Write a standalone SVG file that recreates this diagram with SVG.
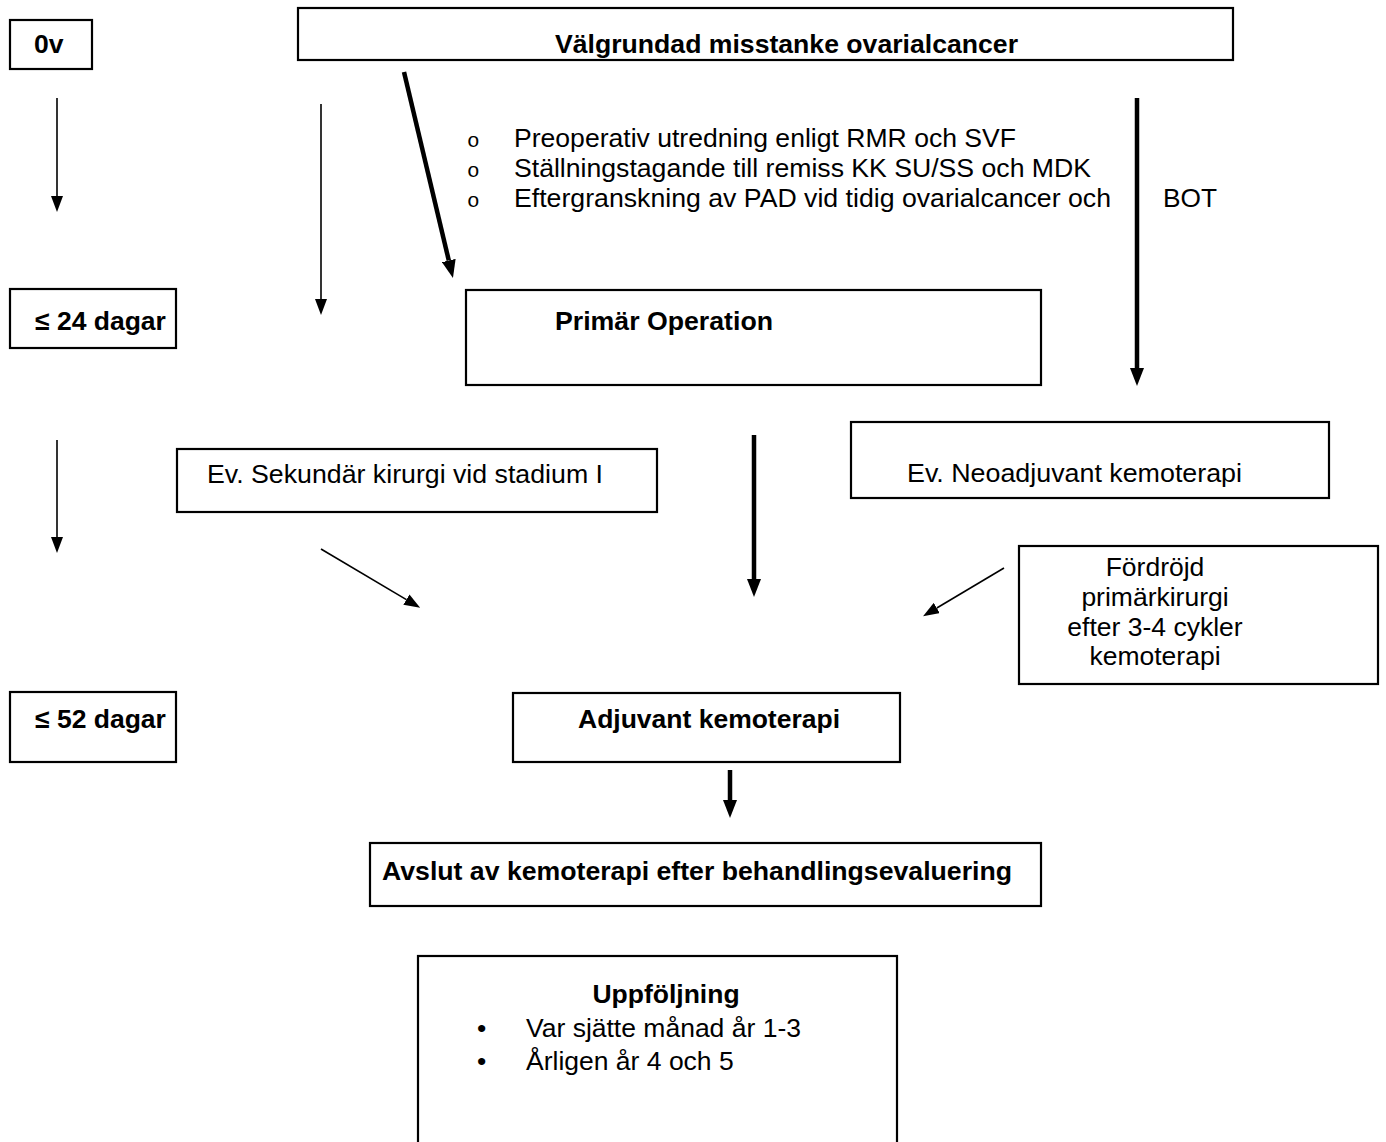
<svg xmlns="http://www.w3.org/2000/svg" width="1386" height="1142" viewBox="0 0 1386 1142">
<style>
.box{fill:#fff;stroke:#000;stroke-width:2.2}
.t{font-family:"Liberation Sans",Arial,sans-serif;font-size:26.5px;fill:#000}
.b{font-weight:bold}
.o{font-family:"Liberation Mono","Courier New",monospace;font-size:21px;fill:#000}
.thin{stroke:#000;stroke-width:1.6;fill:none}
.thick{stroke:#000;stroke-width:4.5;fill:none}
</style>
<defs>
<marker id="ah" markerUnits="userSpaceOnUse" markerWidth="16" markerHeight="12" refX="0" refY="6" orient="auto"><path d="M0,0 L16,6 L0,12 z" fill="#000"/></marker>
<marker id="ahk" markerUnits="userSpaceOnUse" markerWidth="18" markerHeight="14" refX="0" refY="7" orient="auto"><path d="M0,0 L18,7 L0,14 z" fill="#000"/></marker>
</defs>
<rect width="1386" height="1142" fill="#fff"/>
<g id="connectors">
<line class="thin" x1="57" y1="98" x2="57" y2="196" marker-end="url(#ah)"/>
<line class="thin" x1="321" y1="104" x2="321" y2="299" marker-end="url(#ah)"/>
<line class="thick" x1="404" y1="72" x2="448.8" y2="260.5" marker-end="url(#ahk)"/>
<line class="thick" x1="1137" y1="98" x2="1137" y2="368" marker-end="url(#ahk)"/>
<line class="thin" x1="57" y1="440" x2="57" y2="537" marker-end="url(#ah)"/>
<line class="thick" x1="754" y1="435" x2="754" y2="579" marker-end="url(#ahk)"/>
<line class="thin" x1="321" y1="549" x2="406.4" y2="599.6" marker-end="url(#ah)"/>
<line class="thin" x1="1004" y1="568" x2="936.8" y2="608" marker-end="url(#ah)"/>
<line class="thick" x1="730" y1="770" x2="730" y2="800" marker-end="url(#ahk)"/>
</g>
<g id="n-0v"><rect class="box" x="10" y="20" width="82" height="49"/><text class="t b" x="34" y="53">0v</text></g>
<g id="n-top"><rect class="box" x="298" y="8" width="935" height="52"/><text class="t b" x="555" y="53" textLength="463" lengthAdjust="spacingAndGlyphs">Välgrundad misstanke ovarialcancer</text></g>
<g id="n-list">
<text class="o" x="467" y="147">o</text><text class="t" x="514" y="147" textLength="502" lengthAdjust="spacingAndGlyphs">Preoperativ utredning enligt RMR och SVF</text>
<text class="o" x="467" y="177">o</text><text class="t" x="514" y="177" textLength="577" lengthAdjust="spacingAndGlyphs">Ställningstagande till remiss KK SU/SS och MDK</text>
<text class="o" x="467" y="207">o</text><text class="t" x="514" y="207" textLength="597" lengthAdjust="spacingAndGlyphs">Eftergranskning av PAD vid tidig ovarialcancer och</text>
</g>
<g id="n-bot"><text class="t" x="1163" y="207" textLength="54" lengthAdjust="spacingAndGlyphs">BOT</text></g>
<g id="n-24"><rect class="box" x="10" y="289" width="166" height="59"/><text class="t b" x="35" y="330">≤ 24 dagar</text></g>
<g id="n-primar"><rect class="box" x="466" y="290" width="575" height="95"/><text class="t b" x="555" y="330" textLength="218" lengthAdjust="spacingAndGlyphs">Primär Operation</text></g>
<g id="n-sekundar"><rect class="box" x="177" y="449" width="480" height="63"/><text class="t" x="207" y="483" textLength="396" lengthAdjust="spacingAndGlyphs">Ev. Sekundär kirurgi vid stadium I</text></g>
<g id="n-neo"><rect class="box" x="851" y="422" width="478" height="76"/><text class="t" x="907" y="482" textLength="335" lengthAdjust="spacingAndGlyphs">Ev. Neoadjuvant kemoterapi</text></g>
<g id="n-fordrojd"><rect class="box" x="1019" y="546" width="359" height="138"/>
<text class="t" x="1155" y="576" text-anchor="middle">Fördröjd</text>
<text class="t" x="1155" y="606" text-anchor="middle">primärkirurgi</text>
<text class="t" x="1155" y="636" text-anchor="middle">efter 3-4 cykler</text>
<text class="t" x="1155" y="665" text-anchor="middle">kemoterapi</text></g>
<g id="n-52"><rect class="box" x="10" y="692" width="166" height="70"/><text class="t b" x="35" y="728">≤ 52 dagar</text></g>
<g id="n-adjuvant"><rect class="box" x="513" y="693" width="387" height="69"/><text class="t b" x="578" y="728" textLength="262" lengthAdjust="spacingAndGlyphs">Adjuvant kemoterapi</text></g>
<g id="n-avslut"><rect class="box" x="370" y="843" width="671" height="63"/><text class="t b" x="382" y="880" textLength="630" lengthAdjust="spacingAndGlyphs">Avslut av kemoterapi efter behandlingsevaluering</text></g>
<g id="n-uppfoljning"><rect class="box" x="418" y="956" width="479" height="200"/>
<text class="t b" x="666" y="1003" text-anchor="middle">Uppföljning</text>
<text class="t" x="477" y="1037">•</text><text class="t" x="526" y="1037">Var sjätte månad år 1-3</text>
<text class="t" x="477" y="1070">•</text><text class="t" x="526" y="1070">Årligen år 4 och 5</text></g>
</svg>
